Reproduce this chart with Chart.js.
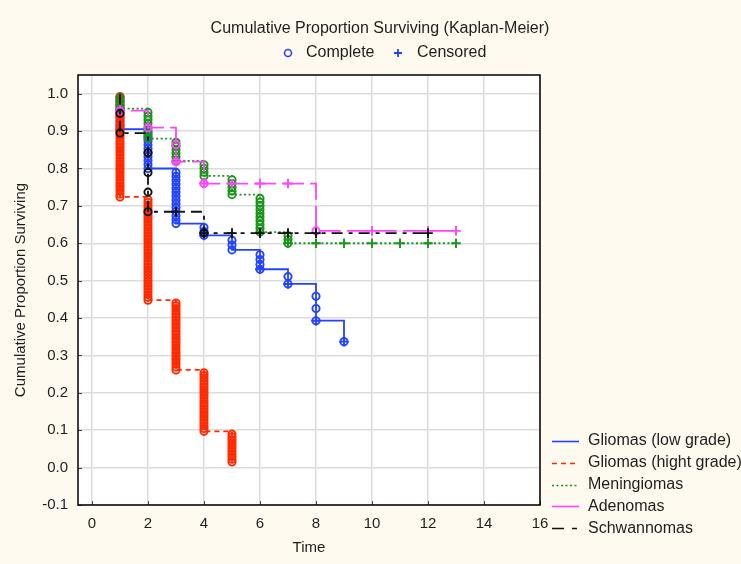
<!DOCTYPE html>
<html>
<head>
<meta charset="utf-8">
<title>Kaplan-Meier</title>
<script src="https://cdn.jsdelivr.net/npm/chart.js@4"></script>
<style>
  html, body { margin: 0; padding: 0; background: #fffaf0; }
  #wrap { width: 741px; height: 564px; }
</style>
</head>
<body>
<div id="wrap"><canvas id="grafico" width="741" height="564"></canvas></div>
<script>
// series (legend order)
const seriesNames = ["Gliomas (low grade)", "Gliomas (hight grade)", "Meningiomas", "Adenomas", "Schwannomas"];
const seriesColors = ["#2244ff", "#ff2a00", "#1a941a", "#ff44ff", "#111111"];

// patients at risk at the start of follow-up
const startN = [95, 134, 100, 22, 19];

const lowTime = [1, 2, 3, 4, 5, 6, 7, 8, 9];
const lowDeaths = [9, 10, 14, 3, 3, 4, 2, 3, 1];
const lowCensored = [0, 0, 0, 11, 0, 14, 10, 5, 6];

const highTime = [1, 2, 3, 4, 5];
const highDeaths = [37, 37, 25, 22, 11];
const highCensored = [0, 0, 0, 0, 0];

const meninTime = [1, 2, 3, 4, 5, 6, 7, 8, 9, 10, 11, 12, 13];
const meninDeaths = [4, 8, 6, 4, 5, 10, 3, 0, 0, 0, 0, 0, 0];
const meninCensored = [0, 0, 0, 0, 0, 0, 10, 10, 8, 8, 8, 8, 8];

const adenTime = [1, 2, 3, 4, 5, 6, 7, 8, 10, 12, 13];
const adenDeaths = [1, 1, 2, 1, 0, 0, 0, 1, 0, 0, 0];
const adenCensored = [0, 0, 4, 1, 2, 2, 2, 0, 2, 1, 2];

const schwTime = [1, 2, 3, 4, 5, 6, 7, 8, 12];
const schwDeaths = [2, 4, 0, 1, 0, 0, 0, 0, 0];
const schwCensored = [0, 0, 1, 1, 2, 2, 2, 2, 2];

const FONT = '"Liberation Sans", Arial, sans-serif';

// Kaplan-Meier estimate, one marker per death ("o") and one per censoring time ("+")
function kmPoints(time, deaths, censored, n) {
  let s = 1;
  const pts = [{ x: time[0], y: 1, mark: "" }];
  time.forEach((t, i) => {
    for (let j = 1; j <= deaths[i]; j++) {
      pts.push({ x: t, y: s * (1 - j / n), mark: "o" });
    }
    s = s * (1 - deaths[i] / n);
    if (censored[i] > 0) pts.push({ x: t, y: s, mark: "+" });
    n -= deaths[i] + censored[i];
  });
  return pts;
}

const curves = [
  kmPoints(lowTime, lowDeaths, lowCensored, startN[0]),
  kmPoints(highTime, highDeaths, highCensored, startN[1]),
  kmPoints(meninTime, meninDeaths, meninCensored, startN[2]),
  kmPoints(adenTime, adenDeaths, adenCensored, startN[3]),
  kmPoints(schwTime, schwDeaths, schwCensored, startN[4]),
];

const lineDash = [[], [5, 4], [2, 2.5], [22, 6], [11, 6, 4, 6]];
const legendDash = [[], [5, 4], [2, 2.5], [], [12, 8, 5, 8]];
const drawOrder = [4, 3, 2, 1, 0];

const datasets = curves.map((pts, i) => ({
  label: seriesNames[i],
  data: pts,
  order: drawOrder[i],
  stepped: "before",
  fill: false,
  borderColor: seriesColors[i],
  borderWidth: 1.8,
  borderDash: lineDash[i],
  pointStyle: (ctx) => (ctx.raw && ctx.raw.mark === "+" ? "cross" : "circle"),
  pointRadius: (ctx) => (!ctx.raw || !ctx.raw.mark ? 0 : ctx.raw.mark === "+" ? 4.8 : 3.6),
  pointBorderWidth: 1.9,
  pointBorderColor: seriesColors[i],
  pointBackgroundColor: "rgba(0,0,0,0)",
}));

// background, frame, small inner ticks, title and both keys
const decor = {
  id: "decor",
  beforeDraw(chart) {
    const { ctx, chartArea: a } = chart;
    ctx.save();
    ctx.fillStyle = "#fffaf0";
    ctx.fillRect(0, 0, chart.width, chart.height);
    ctx.fillStyle = "#ffffff";
    ctx.fillRect(a.left, a.top, a.right - a.left, a.bottom - a.top);
    ctx.restore();
  },
  beforeDatasetsDraw(chart) {
    const { ctx, chartArea: a, scales } = chart;
    ctx.save();
    ctx.strokeStyle = "#444";
    ctx.lineWidth = 1;
    scales.y.ticks.forEach((t) => {
      const y = Math.round(scales.y.getPixelForValue(t.value)) + 0.5;
      ctx.beginPath();
      ctx.moveTo(a.left, y);
      ctx.lineTo(a.left + 4, y);
      ctx.stroke();
    });
    scales.x.ticks.forEach((t) => {
      const x = Math.round(scales.x.getPixelForValue(t.value)) + 0.5;
      ctx.beginPath();
      ctx.moveTo(x, a.bottom);
      ctx.lineTo(x, a.bottom - 4);
      ctx.stroke();
    });
    ctx.strokeStyle = "#000";
    ctx.lineWidth = 1.5;
    ctx.strokeRect(a.left, a.top, a.right - a.left, a.bottom - a.top);
    ctx.restore();
  },
  afterDraw(chart) {
    const ctx = chart.ctx;
    ctx.save();
    ctx.fillStyle = "#1e1e1e";
    ctx.textBaseline = "middle";
    ctx.font = "16px " + FONT;
    ctx.textAlign = "center";
    ctx.fillText("Cumulative Proportion Surviving (Kaplan-Meier)", 380, 29);

    // Complete / Censored key
    ctx.textAlign = "left";
    ctx.strokeStyle = "#2244ff";
    ctx.lineWidth = 1.6;
    ctx.beginPath();
    ctx.arc(288, 53, 3.5, 0, Math.PI * 2);
    ctx.stroke();
    ctx.fillText("Complete", 306, 53);
    ctx.lineWidth = 1.8;
    ctx.beginPath();
    ctx.moveTo(394, 53);
    ctx.lineTo(402, 53);
    ctx.moveTo(398, 49);
    ctx.lineTo(398, 57);
    ctx.stroke();
    ctx.fillText("Censored", 417, 53);

    // series key
    seriesNames.forEach((name, i) => {
      const y = 441 + i * 21.8;
      ctx.strokeStyle = seriesColors[i];
      ctx.lineWidth = 1.6;
      ctx.setLineDash(legendDash[i]);
      ctx.beginPath();
      ctx.moveTo(552, Math.round(y) + 0.5);
      ctx.lineTo(579, Math.round(y) + 0.5);
      ctx.stroke();
      ctx.setLineDash([]);
      ctx.fillStyle = "#1e1e1e";
      ctx.fillText(name, 588, y);
    });
    ctx.restore();
  },
};

const ctx = document.getElementById("grafico").getContext("2d");

const chart = new Chart(ctx, {
  type: "line",
  data: { datasets: datasets },
  options: {
    responsive: false,
    animation: false,
    events: [],
    layout: { padding: { top: 75, left: 0, right: 201, bottom: 0 } },
    plugins: {
      legend: { display: false },
      title: { display: false },
      tooltip: { enabled: false },
    },
    scales: {
      x: {
        type: "linear",
        min: -0.5,
        max: 16,
        afterFit: (scale) => { scale.height = 59; },
        border: { display: false },
        grid: { color: "#dcdcdc", lineWidth: 1.5, drawTicks: false },
        ticks: { stepSize: 2, includeBounds: false, padding: 10, color: "#1e1e1e", font: { size: 15, family: FONT } },
        title: { display: true, text: "Time", color: "#1e1e1e", padding: { top: 0, bottom: 7 }, font: { size: 15, family: FONT } },
      },
      y: {
        type: "linear",
        min: -0.1,
        max: 1.05,
        afterFit: (scale) => { scale.width = 78; },
        border: { display: false },
        grid: { color: "#dcdcdc", lineWidth: 1.5, drawTicks: false },
        ticks: {
          stepSize: 0.1,
          includeBounds: false,
          padding: 10,
          color: "#1e1e1e",
          font: { size: 15, family: FONT },
          callback: (v) => v.toFixed(1),
        },
        title: { display: true, text: "Cumulative Proportion Surviving", color: "#1e1e1e", padding: { top: 12, bottom: 0 }, font: { size: 15, family: FONT } },
      },
    },
  },
  plugins: [decor],
});
</script>
</body>
</html>
